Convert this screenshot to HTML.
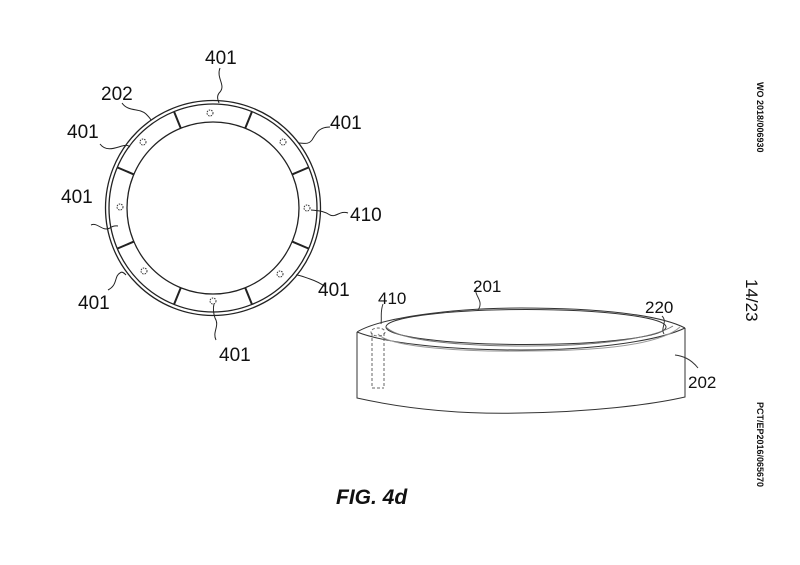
<!DOCTYPE html>
<html><head><meta charset="utf-8"><style>
html,body{margin:0;padding:0;background:#fff;}
svg{display:block}
text{font-family:"Liberation Sans",sans-serif;fill:#111}
</style></head><body>
<svg width="800" height="565" viewBox="0 0 800 565" xmlns="http://www.w3.org/2000/svg">
<g fill="none" stroke="#222" stroke-width="1.3">
<circle cx="213" cy="208" r="107.5"/>
<circle cx="213" cy="208" r="104"/>
<circle cx="213" cy="208" r="86"/>
</g>
<g stroke="#222" stroke-width="2">
<line x1="213" y1="122" x2="213" y2="104" transform="rotate(22 213 208)"/>
<line x1="213" y1="122" x2="213" y2="104" transform="rotate(-22 213 208)"/>
<line x1="213" y1="122" x2="213" y2="104" transform="rotate(67 213 208)"/>
<line x1="213" y1="122" x2="213" y2="104" transform="rotate(-67 213 208)"/>
<line x1="213" y1="122" x2="213" y2="104" transform="rotate(113 213 208)"/>
<line x1="213" y1="122" x2="213" y2="104" transform="rotate(-113 213 208)"/>
<line x1="213" y1="122" x2="213" y2="104" transform="rotate(158 213 208)"/>
<line x1="213" y1="122" x2="213" y2="104" transform="rotate(-158 213 208)"/>
</g>
<g fill="none" stroke="#333" stroke-width="1" stroke-dasharray="1.5 1">
<circle cx="210" cy="113" r="3"/>
<circle cx="283" cy="142" r="3"/>
<circle cx="307" cy="208" r="3"/>
<circle cx="280" cy="274" r="3"/>
<circle cx="213" cy="301" r="3"/>
<circle cx="144" cy="271" r="3"/>
<circle cx="120" cy="207" r="3"/>
<circle cx="143" cy="142" r="3"/>
</g>
<g fill="none" stroke="#222" stroke-width="1">
<path d="M220 68 C216 78 226 85 220 92 C216 96 218 100 219 103"/>
<path d="M122 103 C128 112 140 108 146 114 C149 117 150 118 151 120"/>
<path d="M100 144 C106 152 115 148 122 146 C126 145 128 145 130 147"/>
<path d="M330 127 C318 127 316 134 312 140 C308 145 304 143 299 143"/>
<path d="M91 225 C98 222 102 232 110 228 C114 225 116 226 118 226"/>
<path d="M348 213 C340 210 336 218 330 215 C324 211 320 211 311 210"/>
<path d="M108 290 C118 285 114 276 120 273 C122 271 124 273 126 275"/>
<path d="M326 287 C320 283 316 281 310 279 C304 277 300 275 296 275"/>
<path d="M216 340 C212 332 220 326 215 318 C213 312 213 308 214 304"/>
</g>
<g font-size="19">
<text x="205" y="64">401</text>
<text x="101" y="100">202</text>
<text x="67" y="138">401</text>
<text x="330" y="129">401</text>
<text x="61" y="203">401</text>
<text x="350" y="221">410</text>
<text x="78" y="309">401</text>
<text x="318" y="296">401</text>
<text x="219" y="361">401</text>
</g>
<g fill="none" stroke="#333" stroke-width="1">
<path d="M357 332 C380 318 450 308 521 308 C600 308 660 315 685 328"/>
<path d="M357 332 L357 398 C420 412 480 414 521 413 C590 412 650 405 685 397 L685 328"/>
<path d="M357 332 C390 345 460 350 521 350 C600 350 660 340 685 328"/>
<ellipse cx="526" cy="327" rx="140" ry="17.5"/>
<path d="M386 327 C400 342 470 346 526 346 C590 346 650 340 673 326" stroke="#777"/>
<path d="M378 334 C390 348 470 352 526 351 C600 351 660 345 680 327" stroke="#999"/>
<g stroke="#666" stroke-dasharray="3 2">
<ellipse cx="378" cy="332" rx="7" ry="4"/>
<line x1="372" y1="333" x2="372" y2="388"/>
<line x1="384" y1="333" x2="384" y2="388"/>
<line x1="372" y1="388" x2="384" y2="388"/>
</g>
<path d="M477 287 C472 295 485 300 478 310"/>
<path d="M662 316 C668 322 660 328 664 334"/>
<path d="M675 355 C682 356 690 358 698 368"/>
<path d="M383 304 C380 312 382 318 381 324"/>
</g>
<g font-size="17">
<text x="378" y="304">410</text>
<text x="473" y="292">201</text>
<text x="645" y="313">220</text>
<text x="688" y="388">202</text>
</g>
<text x="336" y="504" font-size="21" font-weight="bold" font-style="italic">FIG. 4d</text>
<text transform="translate(757,82) rotate(90)" font-size="9" font-family="Liberation Serif" font-weight="bold">WO 2018/006930</text>
<text transform="translate(746,279) rotate(90)" font-size="17">14/23</text>
<text transform="translate(757,402) rotate(90)" font-size="9" font-family="Liberation Serif" font-weight="bold">PCT/EP2016/065670</text>
</svg>
</body></html>
